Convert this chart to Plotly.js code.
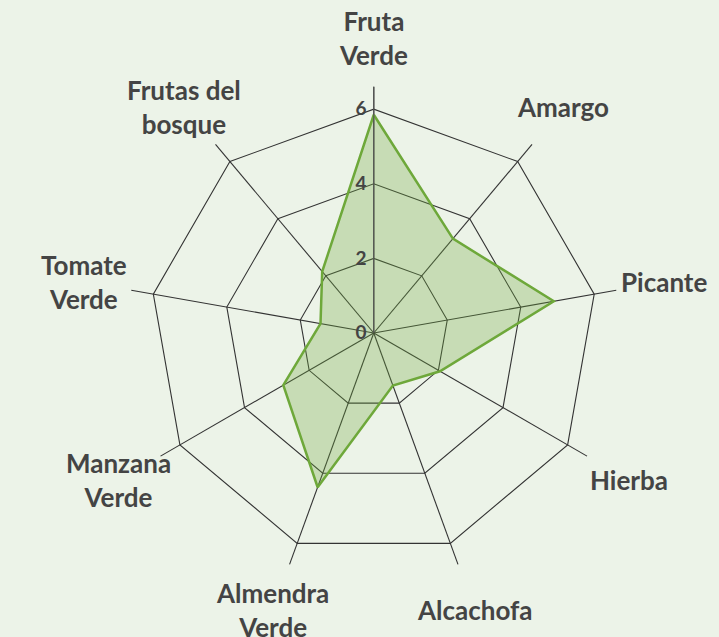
<!DOCTYPE html>
<html>
<head>
<meta charset="utf-8">
<script src="https://cdn.plot.ly/plotly-3.0.1.min.js"></script>
<style>html,body{margin:0;padding:0;background:#ecf3e8;}</style>
</head>
<body>
<div id="chart" style="width:719px;height:637px;"></div>
<script>
const categories = ["Fruta<br>Verde", "Amargo", "Picante", "Hierba", "Alcachofa", "Almendra<br>Verde", "Manzana<br>Verde", "Tomate<br>Verde", "Frutas del<br>bosque"];
const values = [5.85, 3.3, 4.9, 2.05, 1.5, 4.4, 2.8, 1.45, 2.15];
const tickValues = [0, 2, 4, 6];
const tickLabels = ["0", "2", "4", "6"];

const W = 719, H = 637;
const RANGE_MAX = 6.6;
const LABEL_R = 7.9;            // label distance, in radial units
const DOMAIN_X = [0.1774, 0.8623];
const DOMAIN_Y = [0.0895, 0.8650];

// geometry of the polar subplot (square fit inside the domain)
const radiusPx = Math.min((DOMAIN_X[1] - DOMAIN_X[0]) * W, (DOMAIN_Y[1] - DOMAIN_Y[0]) * H) / 2;
const cxPaper = (DOMAIN_X[0] + DOMAIN_X[1]) / 2;
const cyPaper = (DOMAIN_Y[0] + DOMAIN_Y[1]) / 2;
const pxPerUnit = radiusPx / RANGE_MAX;

const area = {
  type: "scatterpolar",
  r: values.concat([values[0]]),
  theta: categories.concat([categories[0]]),
  mode: "lines",
  fill: "toself",
  fillcolor: "rgba(112,170,62,0.30)",
  line: {color: "#6ea83a", width: 2.5},
  hoverinfo: "skip"
};

const annotations = categories.map((c, i) => {
  const ang = i * 2 * Math.PI / categories.length; // clockwise from top
  const d = LABEL_R * pxPerUnit;
  return {
    text: c,
    xref: "paper", yref: "paper",
    x: cxPaper + d * Math.sin(ang) / W,
    y: cyPaper + d * Math.cos(ang) / H,
    xanchor: "center", yanchor: "middle",
    showarrow: false,
    align: "center",
    font: {family: "Lato", size: 26, color: "#444444", weight: "bold"}
  };
});

const layout = {
  width: W, height: H,
  margin: {l: 0, r: 0, t: 0, b: 0},
  paper_bgcolor: "#ecf3e8",
  plot_bgcolor: "#ecf3e8",
  showlegend: false,
  font: {family: "Lato, 'Open Sans', sans-serif", color: "#444444"},
  annotations: annotations,
  polar: {
    domain: {x: DOMAIN_X, y: DOMAIN_Y},
    bgcolor: "rgba(0,0,0,0)",
    gridshape: "linear",
    radialaxis: {
      range: [0, RANGE_MAX],
      autorange: false,
      angle: 90,
      tickangle: 90,
      side: "counterclockwise",
      tickvals: tickValues,
      ticktext: tickLabels,
      showline: true,
      linecolor: "#555555",
      linewidth: 1.2,
      gridcolor: "#333333",
      gridwidth: 1.1,
      ticks: "",
      tickfont: {family: "Lato", size: 19, color: "#444444", weight: "bold"}
    },
    angularaxis: {
      rotation: 90,
      direction: "clockwise",
      showline: false,
      showticklabels: false,
      gridcolor: "#333333",
      gridwidth: 1.1,
      ticks: ""
    }
  }
};

Plotly.newPlot("chart", [area], layout, {displayModeBar: false, staticPlot: true});
</script>
</body>
</html>
